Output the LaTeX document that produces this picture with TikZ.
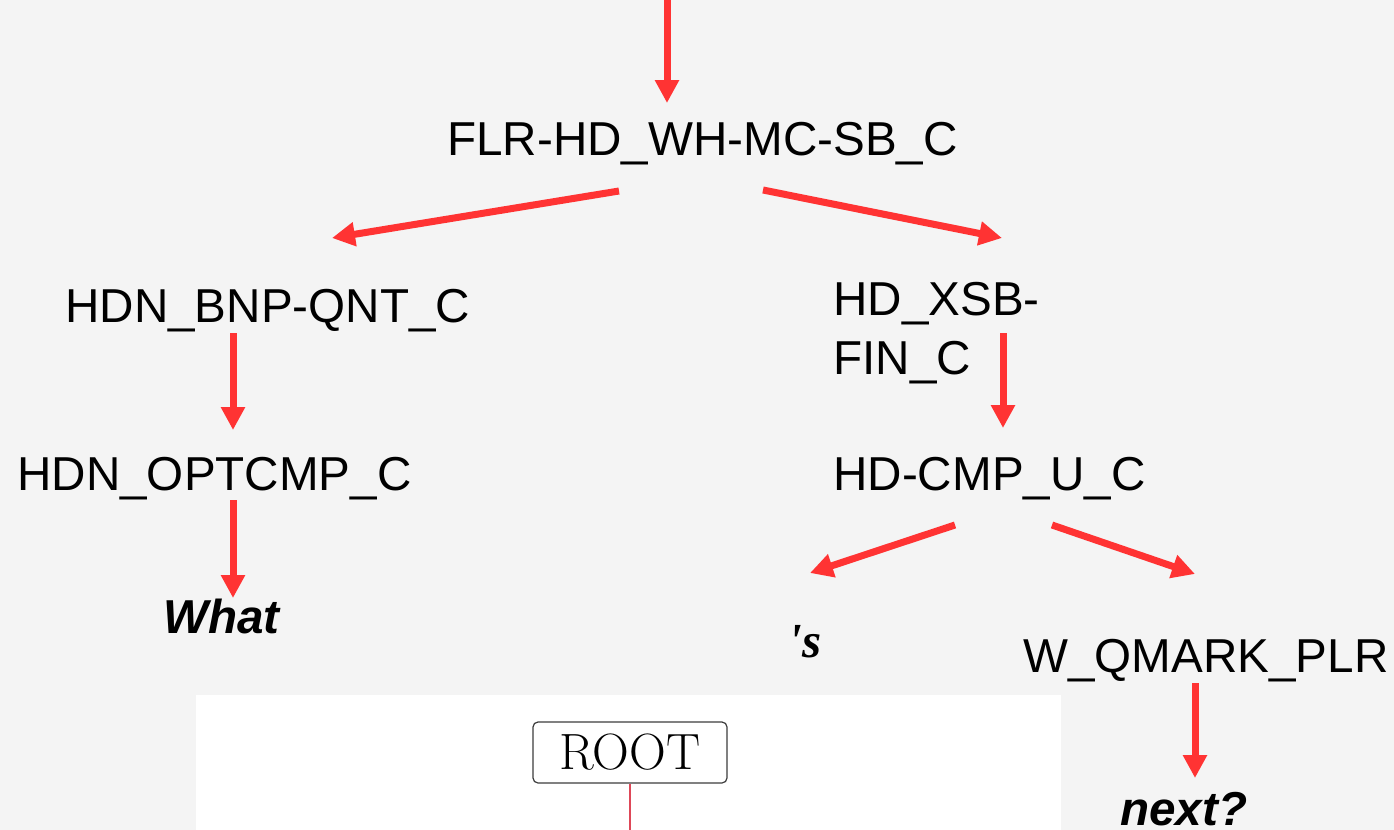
\documentclass[tikz,border=0pt]{standalone}
\usepackage{fontspec}
\newfontfamily\arialfont{Liberation Sans}
\newfontfamily\timesfont{Liberation Serif}
\usetikzlibrary{arrows.meta,calc}
\definecolor{arrred}{RGB}{255,51,51}
\definecolor{bggray}{RGB}{244,244,244}
\definecolor{linered}{RGB}{222,72,88}
\definecolor{boxgray}{RGB}{60,60,60}
\begin{document}
\begin{tikzpicture}[x=0.5pt,y=-0.5pt,
  lbl/.style={anchor=base west,inner sep=0pt,text=black,font=\arialfont\fontsize{23.8pt}{29.5pt}\selectfont},
  word/.style={anchor=base west,inner sep=0pt,text=black,font=\arialfont\fontsize{23.8pt}{29.5pt}\selectfont\bfseries\itshape},
  arr/.style={draw=arrred,line width=3.5pt,-{Triangle[length=11.5pt,width=11.5pt]}},
  rootbox/.style={draw=boxgray,line width=0.6pt,rounded corners=2.5pt,fill=white,minimum width=97pt,minimum height=30.5pt,inner sep=0pt,font=\fontsize{25.5pt}{30pt}\selectfont}]
\useasboundingbox (0,0) rectangle (1394,830);
\fill[bggray] (0,0) rectangle (1394,830);
\fill[white] (196,695) rectangle (1061,830);

\node[lbl] (flr) at (447,155) {FLR-HD\_WH-MC-SB\_C};
\node[lbl] (bnp) at (65,322) {HDN\_BNP-QNT\_C};
\node[lbl,align=left] (xsb) at (833,374) {HD\_XSB-\\FIN\_C};
\node[lbl] (opt) at (17,490) {HDN\_OPTCMP\_C};
\node[lbl] (cmp) at (833,490) {HD-CMP\_U\_C};
\node[word] (what) at (163,633) {What};
\node[word,font=\timesfont\fontsize{24.5pt}{29.5pt}\selectfont\bfseries\itshape] (s) at (788,657) {'s};
\node[lbl] (qmark) at (1023,672) {W\_QMARK\_PLR};
\node[word] (next) at (1120,825) {next?};
\node[rootbox] (root) at (630,752.5) {ROOT};

\coordinate (top) at (667,0);
\coordinate (bottom) at (631,830);

\draw[arr] (top) -- ($(flr.base west)+(220,-52)$);
\draw[arr] ($(flr.base west)+(172,36)$) -- ($(bnp.base west)+(267,-84)$);
\draw[arr] ($(flr.base west)+(316,35)$) -- ($(xsb.base west)+(169,-136)$);
\draw[arr] ($(bnp.base west)+(168,11)$) -- ($(opt.base west)+(216,-60)$);
\draw[arr] ($(xsb.base west)+(170,-41)$) -- ($(cmp.base west)+(170,-62)$);
\draw[arr] ($(opt.base west)+(216,10)$) -- ($(what.base west)+(70,-35)$);
\draw[arr] ($(cmp.base west)+(122,35)$) -- ($(s.base west)+(22,-84)$);
\draw[arr] ($(cmp.base west)+(219,35)$) -- ($(qmark.base west)+(172,-98)$);
\draw[arr] ($(qmark.base west)+(172,11)$) -- ($(next.base west)+(75,-47)$);
\draw[linered,line width=0.8pt] (root.south) -- (root.south |- bottom);
\end{tikzpicture}
\end{document}
